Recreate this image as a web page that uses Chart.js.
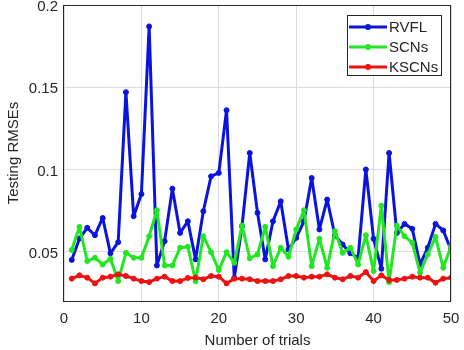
<!DOCTYPE html>
<html>
<head>
<meta charset="utf-8">
<script src="https://cdn.jsdelivr.net/npm/chart.js@4"></script>
<style>
  html, body { margin: 0; padding: 0; background: #fff; }
  #wrap { width: 464px; height: 350px; }
</style>
</head>
<body>
<div id="wrap"><canvas id="rmseChart" width="464" height="350"></canvas></div>
<script>
// values
const trials = Array.from({ length: 50 }, (_, i) => i + 1);
const rvfl = [0.045, 0.058, 0.0645, 0.060, 0.0705, 0.049, 0.0558, 0.147, 0.0716, 0.085,
              0.187, 0.0416, 0.0564, 0.0883, 0.0614, 0.0685, 0.0453, 0.0746, 0.0958, 0.0979,
              0.136, 0.034, 0.0655, 0.110, 0.0736, 0.0453, 0.0685, 0.0806, 0.0513, 0.0584,
              0.0685, 0.0948, 0.0635, 0.0817, 0.060, 0.0544, 0.049, 0.0463, 0.100, 0.0578,
              0.0396, 0.110, 0.0614, 0.0669, 0.0639, 0.0422, 0.0524, 0.0669, 0.0629, 0.051];
const scns = [0.051, 0.0651, 0.0443, 0.0463, 0.0422, 0.0457, 0.0321, 0.0493, 0.0463, 0.0463,
              0.0594, 0.0752, 0.0416, 0.0416, 0.0524, 0.053, 0.032, 0.0594, 0.0497, 0.0388,
              0.0497, 0.0432, 0.0659, 0.046, 0.0483, 0.0651, 0.0412, 0.0524, 0.0469, 0.0635,
              0.0752, 0.0412, 0.0579, 0.0402, 0.0625, 0.0493, 0.0524, 0.0422, 0.060, 0.0382,
              0.078, 0.0315, 0.0659, 0.0594, 0.0554, 0.0372, 0.0483, 0.059, 0.0402, 0.0533];
const kscns = [0.0336, 0.0356, 0.0342, 0.0307, 0.0342, 0.0348, 0.0362, 0.0352, 0.0336, 0.0321,
               0.0315, 0.0336, 0.0348, 0.0321, 0.0321, 0.034, 0.0342, 0.0332, 0.0352, 0.0348,
               0.0307, 0.0336, 0.0336, 0.0332, 0.0321, 0.0321, 0.0321, 0.0332, 0.0352, 0.0352,
               0.0342, 0.0348, 0.0348, 0.0362, 0.0342, 0.0332, 0.0352, 0.0342, 0.0376, 0.0321,
               0.0356, 0.0328, 0.0328, 0.0336, 0.0348, 0.0342, 0.0342, 0.0311, 0.0336, 0.0342];
const seriesNames = ['RVFL', 'SCNs', 'KSCNs'];
const seriesColors = ['#0a14dc', '#22e622', '#ee1111'];
const yTickValues = [0.05, 0.1, 0.15, 0.2];

const FONT = "'Liberation Sans', Arial, sans-serif";
const TEXT = '#262626';

function toPoints(vals) {
    return vals.map((v, i) => ({ x: trials[i], y: v }));
}

// frame box around the plot area, matlab style
const frameBox = {
    id: 'frameBox',
    afterDraw(chart) {
        const { ctx, chartArea: a } = chart;
        ctx.save();
        ctx.strokeStyle = '#262626';
        ctx.lineWidth = 1;
        ctx.strokeRect(Math.round(a.left) - 0.5, Math.round(a.top) + 0.5,
                       Math.round(a.right - a.left), Math.round(a.bottom - a.top));
        ctx.restore();
    }
};

// legend box in the top right corner
const boxLegend = {
    id: 'boxLegend',
    afterDraw(chart) {
        const { ctx, chartArea: a } = chart;
        const w = 94, h = 60;
        const x0 = Math.round(a.right) - 104, y0 = Math.round(a.top) + 10;
        ctx.save();
        ctx.fillStyle = '#fff';
        ctx.fillRect(x0, y0, w, h);
        ctx.strokeStyle = '#262626';
        ctx.lineWidth = 1;
        ctx.strokeRect(x0 + 0.5, y0 + 0.5, w, h);
        ctx.font = '15px ' + FONT;
        ctx.textBaseline = 'middle';
        chart.data.datasets.forEach((ds, i) => {
            const cy = y0 + 12 + i * 20;
            ctx.strokeStyle = ds.borderColor;
            ctx.lineWidth = 3;
            ctx.beginPath();
            ctx.moveTo(x0 + 2, cy);
            ctx.lineTo(x0 + 40, cy);
            ctx.stroke();
            ctx.fillStyle = ds.borderColor;
            ctx.beginPath();
            ctx.arc(x0 + 21, cy, 3, 0, Math.PI * 2);
            ctx.fill();
            ctx.fillStyle = TEXT;
            ctx.fillText(ds.label, x0 + 42, cy + 1);
        });
        ctx.restore();
    }
};

const datasets = [rvfl, scns, kscns].map((vals, i) => ({
    label: seriesNames[i],
    data: toPoints(vals),
    borderColor: seriesColors[i],
    backgroundColor: seriesColors[i],
    borderWidth: 3,
    borderJoinStyle: 'round',
    pointRadius: 2.5,
    pointBorderWidth: 1,
    tension: 0
}));
// red on top, then green, then blue like the picture
datasets.forEach((d, i) => { d.order = 3 - i; });

new Chart(document.getElementById('rmseChart'), {
    type: 'line',
    data: { datasets: datasets },
    options: {
        responsive: false,
        animation: false,
        layout: { padding: { top: 5, right: 13, left: 0, bottom: 0 } },
        plugins: {
            legend: { display: false },
            tooltip: { enabled: false }
        },
        scales: {
            x: {
                type: 'linear',
                min: 0,
                max: 50,
                ticks: { stepSize: 10, color: TEXT, font: { family: FONT, size: 15 }, padding: 9, maxRotation: 0 },
                grid: { color: '#dcdcdc', lineWidth: 1, tickLength: 0, drawTicks: false },
                border: { display: false },
                title: { display: true, text: 'Number of trials', color: TEXT, font: { family: FONT, size: 15 }, padding: { top: 3, bottom: 0 } },
                afterFit(scale) {
                    scale.height = 49;
                    scale.paddingLeft = 0;
                    scale.paddingRight = 0;
                }
            },
            y: {
                min: 0.02,
                max: 0.2,
                afterBuildTicks(scale) { scale.ticks = yTickValues.map(v => ({ value: v })); },
                ticks: { color: TEXT, font: { family: FONT, size: 15 }, padding: 6, labelOffset: 2, callback: v => String(v) },
                grid: { color: '#dcdcdc', lineWidth: 1, tickLength: 0, drawTicks: false },
                border: { display: false },
                title: { display: true, text: 'Testing RMSEs', color: TEXT, font: { family: FONT, size: 15 }, padding: { top: 5, bottom: 4 } },
                afterFit(scale) {
                    scale.width = 64;
                    scale.paddingTop = 0;
                    scale.paddingBottom = 0;
                }
            }
        }
    },
    plugins: [frameBox, boxLegend]
});
</script>
</body>
</html>
